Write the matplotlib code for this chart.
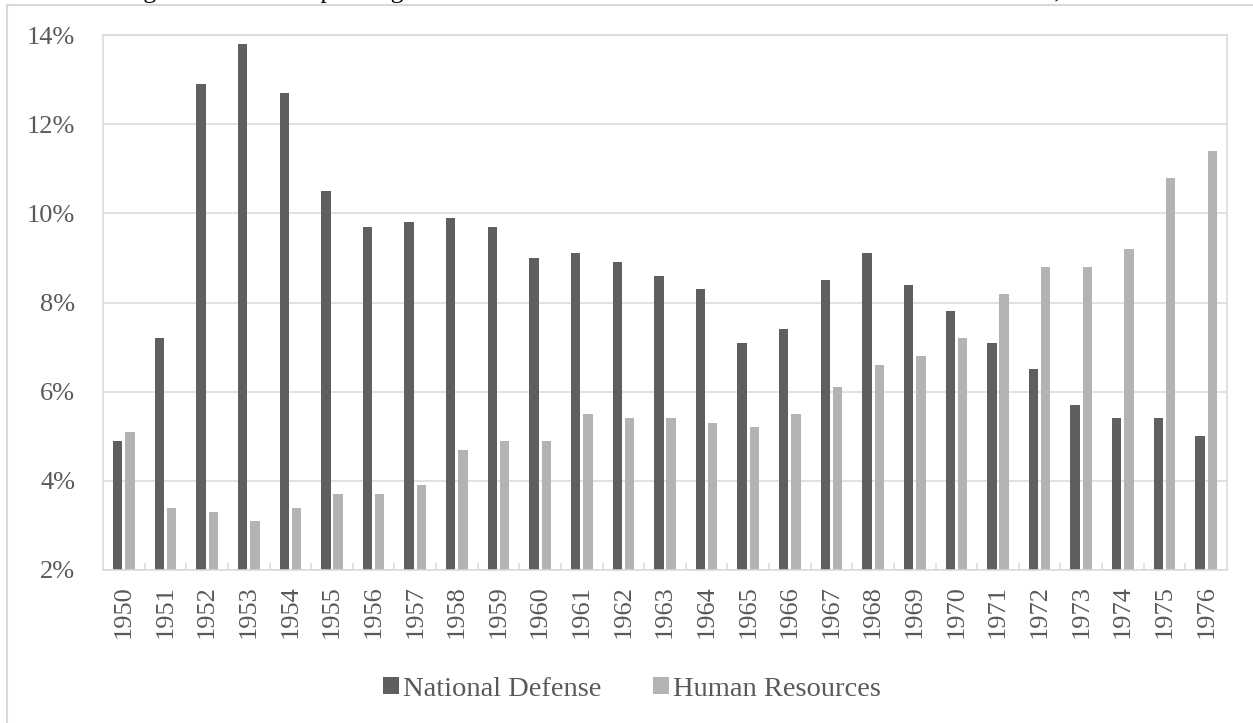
import numpy as np
import matplotlib.pyplot as plt
from matplotlib.patches import Rectangle
from matplotlib.ticker import FixedLocator, FuncFormatter

years = list(range(1950, 1977))
national_defense = [4.9, 7.2, 12.9, 13.8, 12.7, 10.5, 9.7, 9.8, 9.9, 9.7, 9.0, 9.1, 8.9, 8.6,
                    8.3, 7.1, 7.4, 8.5, 9.1, 8.4, 7.8, 7.1, 6.5, 5.7, 5.4, 5.4, 5.0]
human_resources = [5.1, 3.4, 3.3, 3.1, 3.4, 3.7, 3.7, 3.9, 4.7, 4.9, 4.9, 5.5, 5.4, 5.4,
                   5.3, 5.2, 5.5, 6.1, 6.6, 6.8, 7.2, 8.2, 8.8, 8.8, 9.2, 10.8, 11.4]
series_names = ["National Defense", "Human Resources"]
y_ticks = [2, 4, 6, 8, 10, 12, 14]

DARK = "#5f5f5f"
LIGHT = "#b3b3b3"
TEXT = "#595959"
GRID = "#d9d9d9"

plt.rcParams["font.family"] = ["Liberation Serif", "DejaVu Serif"]

W, H = 1253, 723
fig = plt.figure(figsize=(W / 100, H / 100), dpi=100)

# chart frame, running off the right and bottom edges
fig.patches.append(Rectangle((7 / W, -0.05), 1.1, 1 - 5 / H + 0.05, transform=fig.transFigure,
                             fill=False, edgecolor=GRID, linewidth=1.5))

# caption line above the chart, mostly outside the image
fig.text(122 / W, 1 + 2 / H,
         "Figure 2: Federal Spending on National Defense and Human Resources as a Share of GDP, 1950\u20131976",
         fontsize=18.5, color="black", ha="left", va="baseline")

ax = fig.add_axes([103 / W, (H - 570) / H, (1227 - 103) / W, (570 - 35) / H])

x = np.arange(len(years))
bw = 0.225
off = bw / 2 + 0.035
ax.bar(x - off, national_defense, width=bw, bottom=0, color=DARK, label=series_names[0])
ax.bar(x + off, human_resources, width=bw, bottom=0, color=LIGHT, label=series_names[1])

ax.set_xlim(-0.5, len(years) - 0.5)
ax.set_ylim(2, 14)
ax.set_yticks(y_ticks)
ax.yaxis.set_major_formatter(FuncFormatter(lambda v, _: f"{v:.0f}%"))
ax.set_xticks(x)
ax.set_xticklabels([str(y) for y in years], rotation=90)
ax.xaxis.set_minor_locator(FixedLocator(np.arange(0.5, len(years) - 1, 1.0)))

ax.tick_params(axis="y", length=0, pad=20, labelsize=19, labelcolor=TEXT)
ax.tick_params(axis="x", which="major", length=0, pad=11, labelsize=19, labelcolor=TEXT)
ax.tick_params(axis="x", which="minor", direction="in", length=5, width=1.1, color=GRID)

ax.set_axisbelow(True)
ax.grid(axis="y", color=GRID, linewidth=1.1)
for s in ax.spines.values():
    s.set_color(GRID)
    s.set_linewidth(1.1)

fig.legend(loc="center", bbox_to_anchor=(632 / W, 1 - 689 / H), ncol=2, frameon=False,
           fontsize=20.5, labelcolor=TEXT, handlelength=0.55, handleheight=0.55,
           handletextpad=0.15, columnspacing=1.8)

fig.savefig("out.png", dpi=100)
